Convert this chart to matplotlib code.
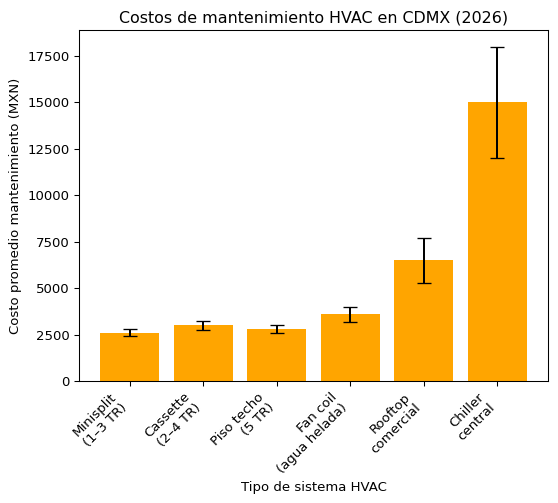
import matplotlib.pyplot as plt
import numpy as np

categorias = ["Minisplit\n(1–3 TR)", "Cassette\n(2–4 TR)", "Piso techo\n(5 TR)",
              "Fan coil\n(agua helada)", "Rooftop\ncomercial", "Chiller\ncentral"]
costos = [2600, 3000, 2800, 3600, 6500, 15000]
errores = [200, 250, 220, 400, 1200, 3000]

dpi = 95
fig, ax = plt.subplots(figsize=(558 / dpi, 503 / dpi), dpi=dpi)
x = np.arange(len(categorias))
ax.bar(x, costos, yerr=errores, color="orange", capsize=5)
ax.set_xticks(x)
ax.set_xticklabels(categorias, rotation=45, ha="right")
ax.set_xlabel("Tipo de sistema HVAC")
ax.set_ylabel("Costo promedio mantenimiento (MXN)")
ax.set_title("Costos de mantenimiento HVAC en CDMX (2026)")
fig.subplots_adjust(left=0.1416, right=0.982, top=0.9404, bottom=0.2425)
fig.savefig("out.png", dpi=dpi)
